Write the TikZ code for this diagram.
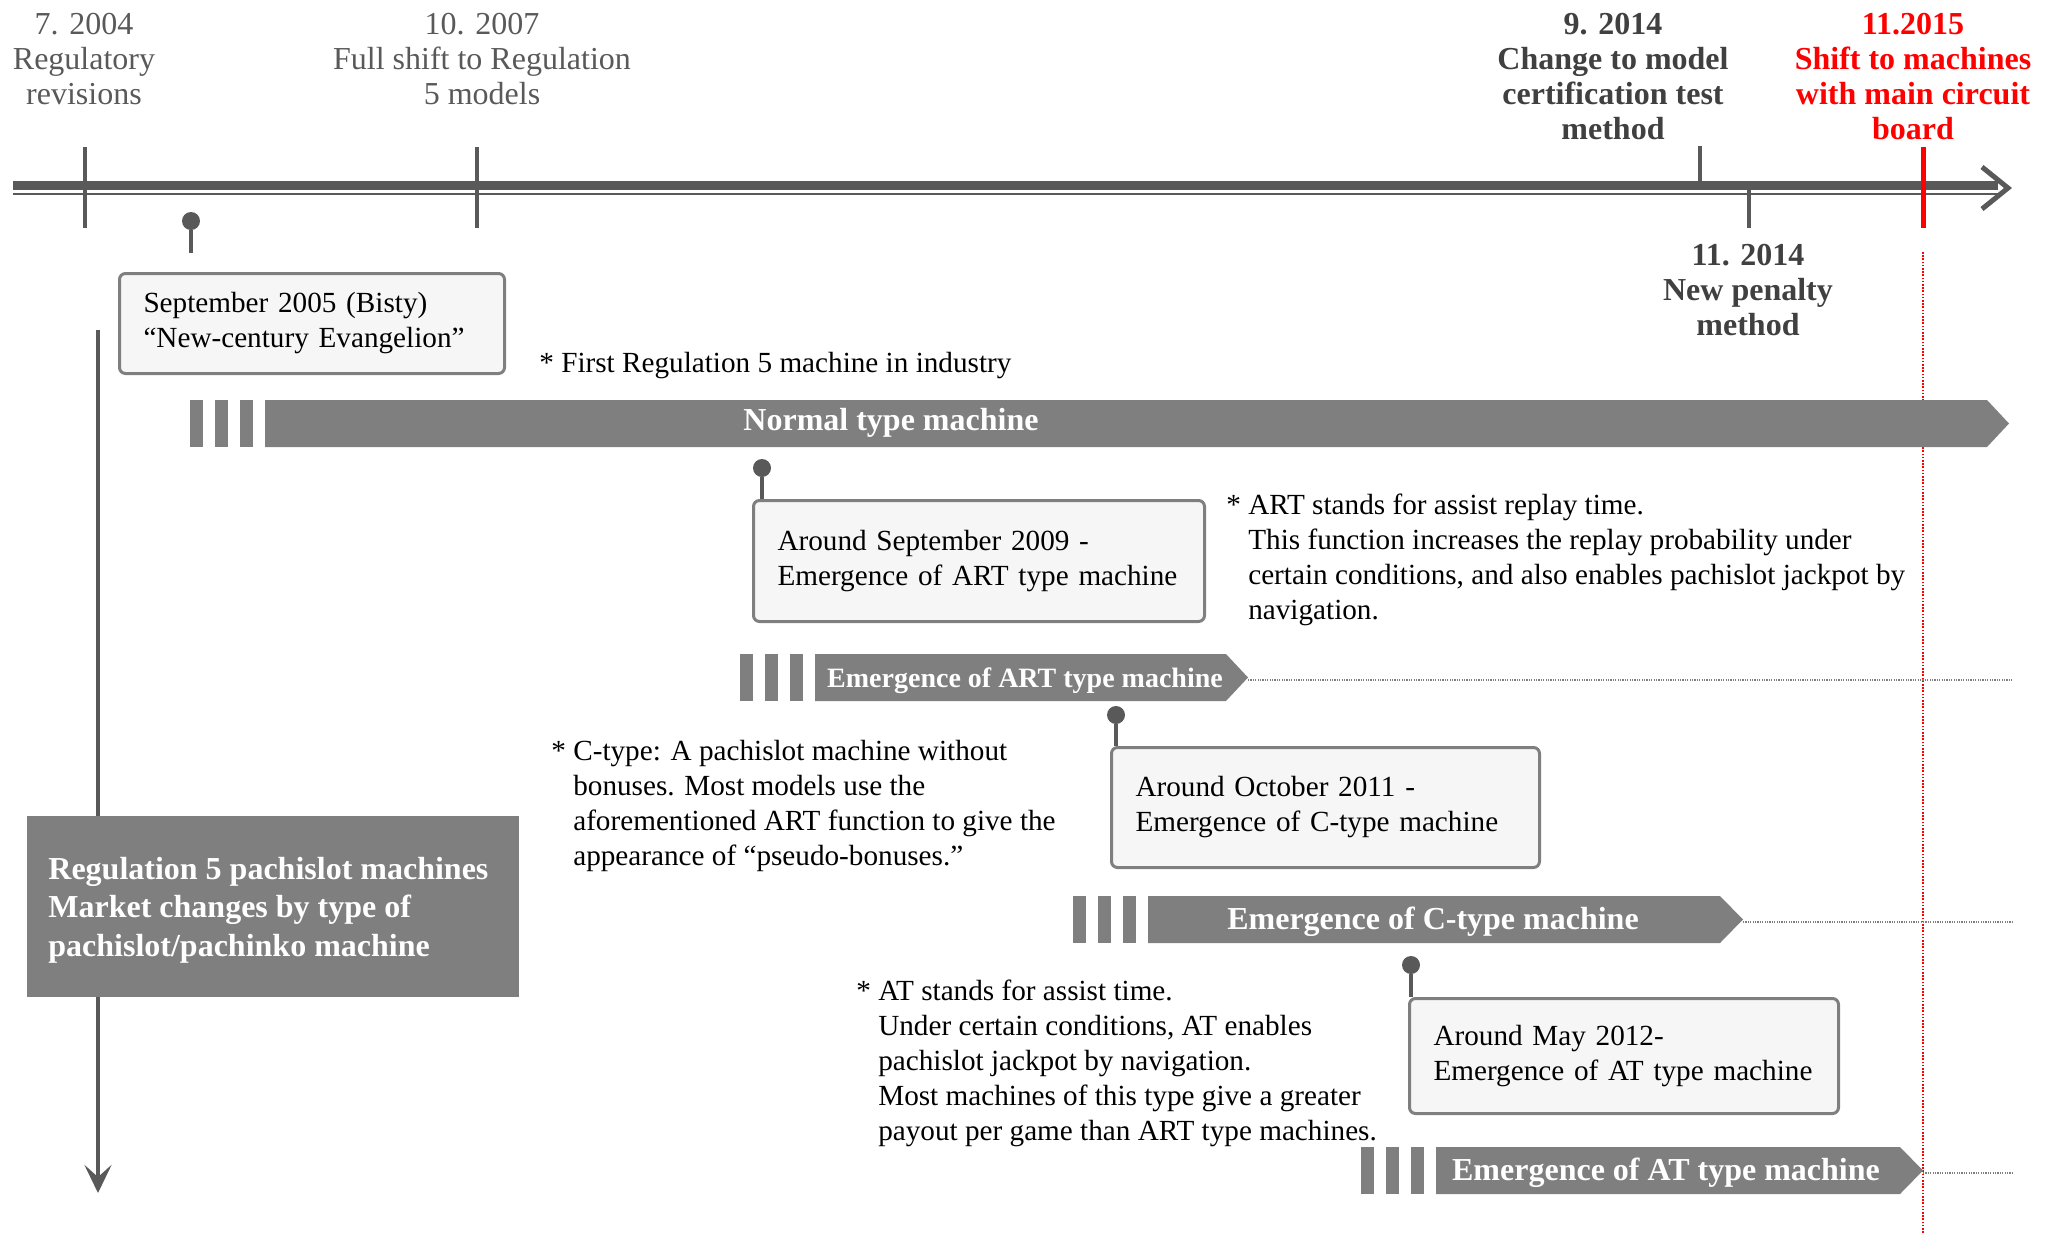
\documentclass[tikz,border=0pt]{standalone}
\usepackage{fontspec}
\setmainfont{Liberation Serif}
\usetikzlibrary{arrows.meta,positioning,shapes.geometric}

\definecolor{axisgray}{HTML}{595959}
\definecolor{bargray}{HTML}{7F7F7F}
\definecolor{labeldark}{HTML}{404040}
\definecolor{boxfill}{HTML}{F6F6F6}
\definecolor{shiftred}{HTML}{FF0000}

\newcommand{\bodyfont}{\fontsize{14.6}{17.5}\selectfont}
\newcommand{\labelfont}{\fontsize{16}{17.5}\selectfont}

\tikzset{
  toplabel/.style={anchor=north,align=center,inner sep=0pt,text=axisgray,font=\labelfont},
  boldlabel/.style={toplabel,text=labeldark,font=\labelfont\bfseries},
  redlabel/.style={boldlabel,text=shiftred},
  eventbox/.style={anchor=north west,draw=bargray,fill=boxfill,line width=1.5pt,
    rounded corners=3pt,align=left,inner xsep=12pt,inner ysep=0pt,font=\bodyfont},
  note/.style={anchor=north west,align=left,inner sep=0pt,font=\bodyfont},
  bartext/.style={inner sep=0pt,text=white,font=\labelfont\bfseries},
  pindot/.style={circle,fill=axisgray,inner sep=0pt,minimum size=9pt},
  stem/.style={draw=axisgray,line width=2pt},
  tickmark/.style={draw=axisgray,line width=2pt},
  dotline/.style={draw=bargray,line width=1.2pt,dash pattern=on 0.6pt off 0.6pt},
  reddotline/.style={draw=shiftred,line width=0.6pt,dash pattern=on 0.8pt off 0.8pt}
}

\begin{document}
\begin{tikzpicture}[x=0.5pt,y=-0.5pt]
\useasboundingbox (0,0) rectangle (2052,1233);

\coordinate (rightend) at (2012,0);
\coordinate (r1) at (1923,252);
\coordinate (r2) at (1923,1233);
\draw[reddotline] (r1) -- (r2);

% time axis
\coordinate (axS) at (13,0);
\coordinate (axE) at (2008,188);
\coordinate (ahU) at (1982,167);
\coordinate (ahL) at (1982,209);
\draw[axisgray,line width=4.5pt] (axS |- 0,185.5) -- (1998,185.5);
\draw[axisgray,line width=1pt] (axS |- 0,194) -- (1998,194);
\draw[axisgray,line width=2.5pt,miter limit=20] (ahU) -- (axE) -- (ahL);

\foreach \i/\x/\a/\b in {1/85/147/228, 2/477/147/228, 3/1700/146/182, 4/1749/190/228} {
  \coordinate (t\i a) at (\x,\a);
  \coordinate (t\i b) at (\x,\b);
  \draw[tickmark] (t\i a) -- (t\i b);
}
\coordinate (t5a) at (1923,147);
\coordinate (t5b) at (1923,228);
\draw[draw=shiftred,line width=2.5pt] (t5a) -- (t5b);

\node[toplabel] (lab1) at (84,13) {7. 2004\\Regulatory\\revisions};
\node[toplabel] (lab2) at (482,13) {10. 2007\\Full shift to Regulation\\5 models};
\node[boldlabel] (lab3) at (1613,13) {9. 2014\\Change to model\\certification test\\method};
\node[boldlabel] (lab4) at (1748,244) {11. 2014\\New penalty\\method};
\node[redlabel] (lab5) at (1913,13) {11.2015\\Shift to machines\\with main circuit\\board};

% vertical arrow and title
\coordinate (vtop) at (98,330);
\coordinate (vbot) at (98,1193);
\draw[axisgray,line width=2pt,-{Stealth[length=14pt,width=13.5pt,inset=6pt]}] (vtop) -- (vbot);
\node[anchor=north west,fill=bargray,inner sep=0pt,minimum width=246pt,minimum height=90.5pt] (title) at (27,816) {};
\node[anchor=west,inner sep=0pt,text=white,font=\fontsize{16}{19.3}\selectfont\bfseries,align=left]
  (titletext) at ([xshift=10.5pt,yshift=-1.5pt]title.west)
  {Regulation 5 pachislot machines\\Market changes by type of\\pachislot/pachinko machine};

% bars
\foreach \n/\x/\y/\e/\t in {nor/190/400/1987/2009, art/740/654/1226/1248,
    ctp/1073/896/1720/1743, atp/1361/1147/1900/1923} {
  \foreach \s in {0,1,2}
    \fill[bargray] (\x+\s*25,\y) rectangle ++(13,47);
  \fill[bargray] (\x+75,\y) -- (\e,\y) -- (\t,\y+23.5) -- (\e,\y+47) -- (\x+75,\y+47) -- cycle;
  \coordinate (\n tip) at (\t,\y+26);
}
\foreach \n in {art,ctp,atp}
  \draw[dotline] (\n tip) -- (\n tip -| rightend);

\node[bartext] (nortext) at (891,423) {Normal type machine};
\node[bartext,font=\fontsize{14}{16}\selectfont\bfseries] (arttext) at (1025,681) {Emergence of ART type machine};
\node[bartext] (ctptext) at (1433,922) {Emergence of C-type machine};
\node[bartext] (atptext) at (1666,1173) {Emergence of AT type machine};

% event boxes
\node[eventbox,text width=168.5pt,minimum height=50pt] (box1) at (118,272)
  {September 2005 (Bisty)\\“New-century Evangelion”};
\node[eventbox,text width=201.5pt,minimum height=60.5pt] (box2) at (752,499)
  {Around September 2009 -\\Emergence of ART type machine};
\node[eventbox,text width=190pt,minimum height=60pt] (box3) at (1110,746)
  {Around October 2011 -\\Emergence of C-type machine};
\node[eventbox,text width=190.5pt,minimum height=57.5pt] (box4) at (1408,997)
  {Around May 2012-\\Emergence of AT type machine};

\node[pindot] (p1) at (191,221) {};
\coordinate (p1end) at (191,253);
\draw[stem] (p1) -- (p1end);
\node[pindot] (p2) at (762,468) {};
\draw[stem] (p2) -- (p2 |- box2.north);
\node[pindot] (p3) at (1116,715) {};
\draw[stem] (p3) -- (p3 |- box3.north);
\node[pindot] (p4) at (1411,965) {};
\draw[stem] (p4) -- (p4 |- box4.north);

% notes
\node[note] (n1) at (539,352) {* First Regulation 5 machine in industry};
\node[note] (n2) at (1226,494) {* ART stands for assist replay time.\\
  \hphantom{*\ }This function increases the replay probability under\\
  \hphantom{*\ }certain conditions, and also enables pachislot jackpot by\\
  \hphantom{*\ }navigation.};
\node[note] (n3) at (551,740) {* C-type: A pachislot machine without\\
  \hphantom{*\ }bonuses. Most models use the\\
  \hphantom{*\ }aforementioned ART function to give the\\
  \hphantom{*\ }appearance of “pseudo-bonuses.”};
\node[note] (n4) at (856,980) {* AT stands for assist time.\\
  \hphantom{*\ }Under certain conditions, AT enables\\
  \hphantom{*\ }pachislot jackpot by navigation.\\
  \hphantom{*\ }Most machines of this type give a greater\\
  \hphantom{*\ }payout per game than ART type machines.};

\end{tikzpicture}
\end{document}
